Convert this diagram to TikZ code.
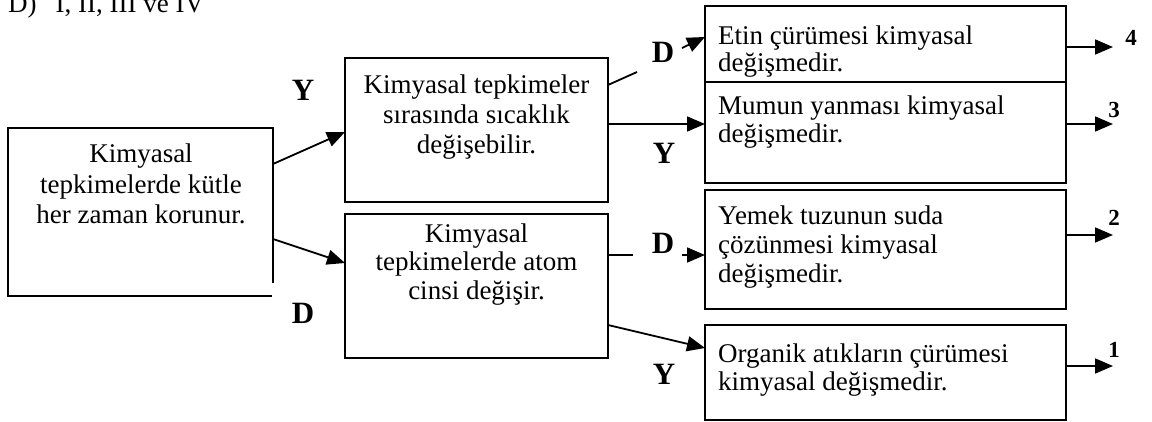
\documentclass[tikz,border=0pt]{standalone}
\usepackage{fontspec}
\setmainfont{Liberation Serif}
\usetikzlibrary{arrows.meta,calc}
\begin{document}
\begin{tikzpicture}[x=1pt,y=-1pt,
  box/.style={draw,line width=1.8pt,inner sep=0pt,outer sep=0pt},
  hbox/.style={inner sep=0pt,outer sep=0pt},
  ctxt/.style={inner sep=0pt,align=center,anchor=base,font=\fontsize{27}{29.5}\selectfont},
  ltxt/.style={inner sep=0pt,align=left,anchor=base west,font=\fontsize{27}{28}\selectfont},
  lbl/.style={inner sep=0pt,font=\fontsize{31}{31}\selectfont\bfseries},
  num/.style={inner sep=0pt,font=\fontsize{23}{23}\selectfont\bfseries},
  ln/.style={line width=1.8pt},
  arr/.style={line width=1.8pt,-{Triangle[length=18pt,width=15pt]}}]
\useasboundingbox (0,0) rectangle (1152,422);
\clip (0,0) rectangle (1152,422);

% heading (cut at the top, as in the reference)
\node[inner sep=0pt,anchor=base west,font=\fontsize{27}{29}\selectfont] (head) at (8,13) {D)\hspace{19pt}I, II, III ve IV};

% boxes
\node[hbox,minimum width=265pt,minimum height=168pt] (A) at (140.5,212) {};
\draw[ln] ($(A.north east)+(0,155)$) -- (A.north east) -- (A.north west) -- (A.south west) -- ($(A.south east)+(-1,0)$);
\node[box,minimum width=263pt,minimum height=144pt] (B) at (476.5,130) {};
\node[box,minimum width=263pt,minimum height=144pt] (C) at (476.5,286) {};
\node[box,minimum width=361pt,minimum height=76pt] (E) at (885.5,44) {};
\node[box,minimum width=361pt,minimum height=101pt] (M) at (885.5,132.5) {};
\node[box,minimum width=361pt,minimum height=119pt] (T) at (885.5,249.5) {};
\node[box,minimum width=361pt,minimum height=95pt] (O) at (885.5,372.5) {};

% texts (anchor base = baseline of the last line)
\node[ctxt,font=\fontsize{27}{30.5}\selectfont] (At) at (141,224) {Kimyasal\\tepkimelerde kütle\\her zaman korunur.};
\node[ctxt,font=\fontsize{27}{30}\selectfont] (Bt) at (476.5,154) {Kimyasal tepkimeler\\sırasında sıcaklık\\değişebilir.};
\node[ctxt,font=\fontsize{27}{29}\selectfont] (Ct) at (476.5,300) {Kimyasal\\tepkimelerde atom\\cinsi değişir.};
\node[ltxt,font=\fontsize{27}{27}\selectfont] (Et) at (718,72) {Etin çürümesi kimyasal\\değişmedir.};
\node[ltxt,font=\fontsize{27}{28}\selectfont] (Mt) at (718,143) {Mumun yanması kimyasal\\değişmedir.};
\node[ltxt,font=\fontsize{27}{29}\selectfont] (Tt) at (718,283) {Yemek tuzunun suda\\çözünmesi kimyasal\\değişmedir.};
\node[ltxt,font=\fontsize{27}{28}\selectfont] (Ot) at (718,390) {Organik atıkların çürümesi\\kimyasal değişmedir.};

% labels
\node[lbl] (lAY) at (303,90) {Y};
\node[lbl] (lAD) at (303,313) {D};
\node[lbl] (lBD) at (663,52) {D};
\node[lbl] (lBY) at (664,153) {Y};
\node[lbl] (lCD) at (663,243) {D};
\node[lbl] (lCY) at (664,374) {Y};
\node[num] (n4) at (1131,38) {4};
\node[num] (n3) at (1114,110) {3};
\node[num] (n2) at (1114,218) {2};
\node[num] (n1) at (1114,350) {1};

% connectors from A
\draw[arr] (A.east |- 0,164) -- (B.west |- 0,132);
\draw[arr] (A.east |- 0,239) -- (C.west |- 0,263);

% connectors from B
\coordinate (d1a) at (637,72);
\coordinate (d1b) at (682,48);
\draw[ln] (B.east |- 0,85) -- (d1a);
\draw[arr] (d1b) -- (E.west |- 0,37);
\draw[arr] (B.east |- 0,124) -- (M.west |- 0,124);

% connectors from C
\coordinate (d2a) at (633,255);
\coordinate (d2b) at (682,255);
\draw[ln] (C.east |- 0,255) -- (d2a);
\draw[arr] (d2b) -- (T.west |- 0,255);
\draw[arr] (C.east |- 0,325) -- (O.west |- 0,348);

% outputs
\coordinate (o4) at (1113,47);
\coordinate (o3) at (1113,124);
\coordinate (o2) at (1113,235);
\coordinate (o1) at (1113,366);
\draw[arr] (E.east |- o4) -- (o4);
\draw[arr] (M.east |- o3) -- (o3);
\draw[arr] (T.east |- o2) -- (o2);
\draw[arr] (O.east |- o1) -- (o1);
\end{tikzpicture}
\end{document}
